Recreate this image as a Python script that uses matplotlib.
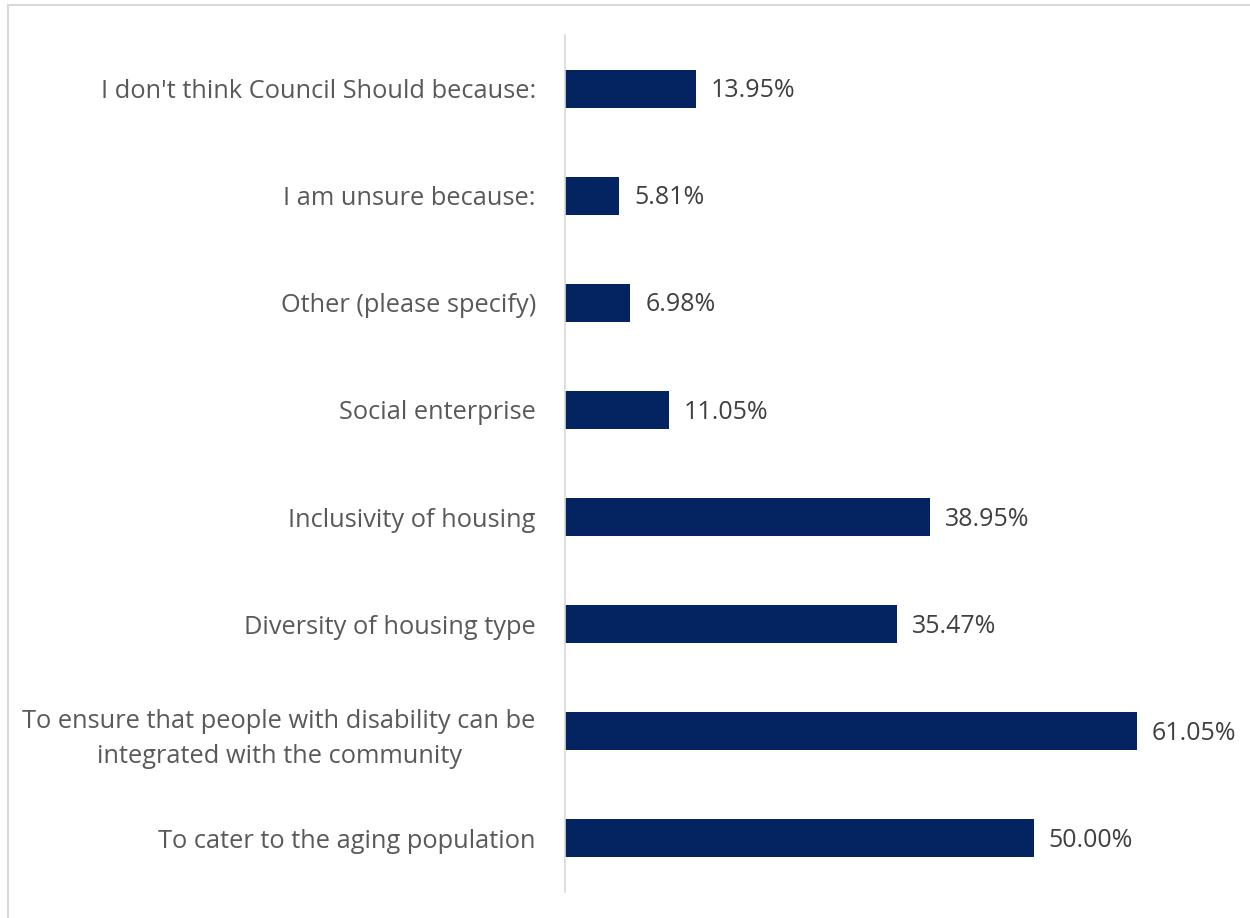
import matplotlib
matplotlib.use("Agg")
import matplotlib.pyplot as plt
from matplotlib.patches import Rectangle

categories = [
    "To cater to the aging population",
    "To ensure that people with disability can be\nintegrated with the community",
    "Diversity of housing type",
    "Inclusivity of housing",
    "Social enterprise",
    "Other (please specify)",
    "I am unsure because:",
    "I don't think Council Should because:",
]
values = [50.00, 61.05, 35.47, 38.95, 11.05, 6.98, 5.81, 13.95]

bar_color = "#042361"
label_color = "#595959"
value_color = "#404040"

plt.rcParams["font.family"] = ["Open Sans", "DejaVu Sans"]

fig = plt.figure(figsize=(12.5, 9.18), dpi=100)
ax = fig.add_axes([565 / 1250, 26 / 918, 685 / 1250, 857 / 918])

pos = list(range(len(categories)))
ax.barh(pos, values, height=0.355, color=bar_color)

for y, v in zip(pos, values):
    ax.text(v + 1.6, y - 0.02, "{:.2f}%".format(v), va="center", ha="left",
            fontsize=18, color=value_color)

ax.set_yticks(pos)
ax.set_yticklabels(categories, fontsize=18.3, color=label_color,
                   multialignment="center", linespacing=1.5)
ax.tick_params(axis="y", length=0, pad=21)
ax.set_ylim(-0.5, len(categories) - 0.5)
ax.set_xlim(0, 685 / 9.37)
ax.set_xticks([])

for s in ["top", "right", "bottom"]:
    ax.spines[s].set_visible(False)
ax.spines["left"].set_color("#d9d9d9")
ax.spines["left"].set_linewidth(1.2)

# chart frame
fig.patches.append(Rectangle((8 / 1250, -0.01), 1.1, (918 - 5) / 918 + 0.01,
                             transform=fig.transFigure, fill=False,
                             edgecolor="#d9d9d9", linewidth=1.5))

fig.savefig("out.png", dpi=100)
